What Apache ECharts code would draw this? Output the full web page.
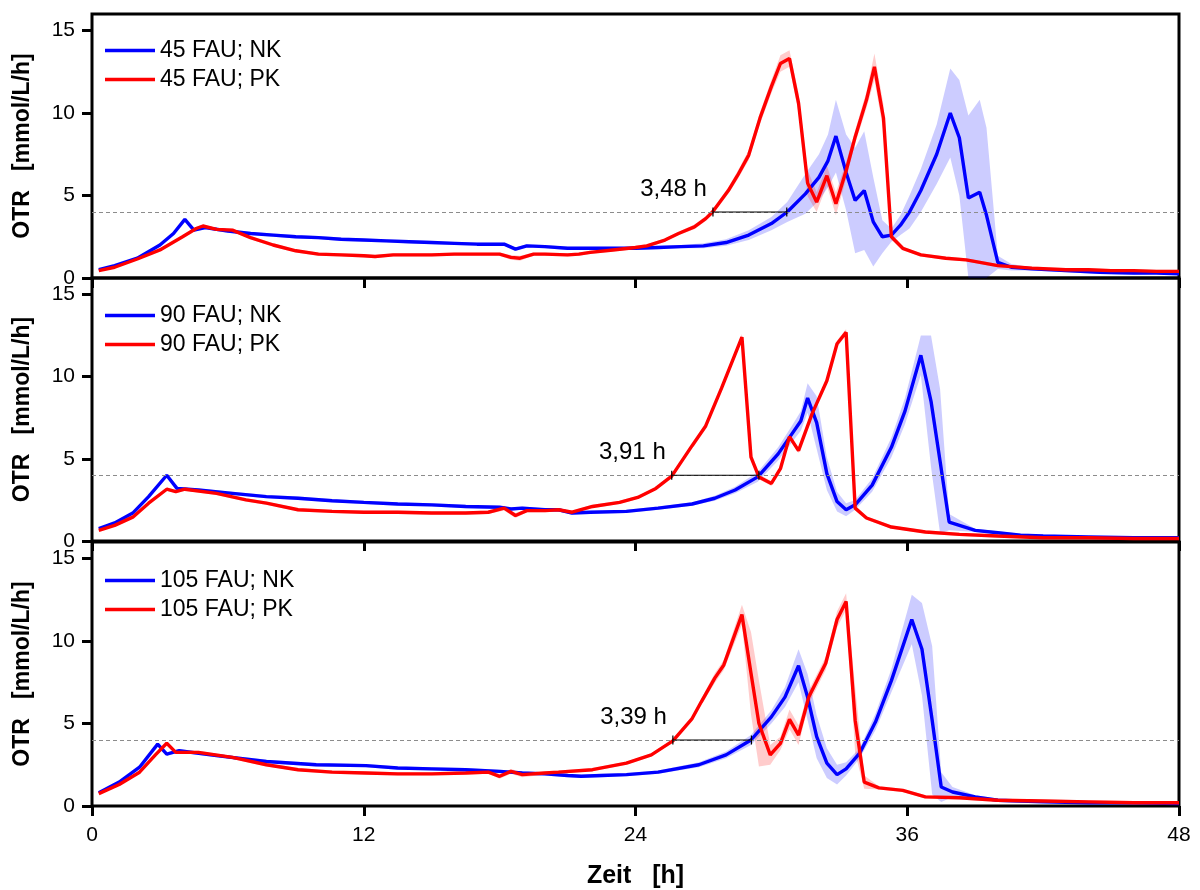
<!DOCTYPE html>
<html>
<head>
<meta charset="utf-8">
<script src="https://cdn.jsdelivr.net/npm/echarts@6/dist/echarts.min.js"></script>
<style>html,body{margin:0;padding:0;background:#fff}#c{width:1200px;height:890px}</style>
</head>
<body>
<div id="c"></div>
<script>
// ---------- DATA ----------
const X_TICKS = [0, 12, 24, 36, 48];
const Y_TICKS = [0, 5, 10, 15];
const THRESHOLD = 4;

const LEGEND_NK = ['45 FAU; NK', '90 FAU; NK', '105 FAU; NK'];
const LEGEND_PK = ['45 FAU; PK', '90 FAU; PK', '105 FAU; PK'];

const ANN_TEXT = ['3,48 h', '3,91 h', '3,39 h'];
const ANN_START = [27.42, 25.6, 25.65];
const ANN_END = [30.68, 29.45, 29.12];

// 45 FAU
const T_NK45 = [0.3,1,2,3,3.6,4.1,4.5,5,6,7,8,9,10,11,12,13,14,15,16,17,18.2,18.7,19.2,20,21,22,23,24,25,26,27,28,29,30,30.7,31.5,32.1,32.5,32.85,33.3,33.7,34.1,34.5,34.9,35.3,35.7,36.1,36.6,37.3,37.9,38.3,38.7,39.2,39.5,40.0,40.6,41.5,43,44.5,46,47,48];
const OTR_NK45 = [0.5,0.75,1.2,2.0,2.7,3.55,2.9,3.05,2.85,2.7,2.6,2.5,2.45,2.35,2.3,2.25,2.2,2.15,2.1,2.05,2.05,1.75,1.95,1.9,1.8,1.8,1.8,1.8,1.85,1.9,1.95,2.15,2.6,3.3,4.0,5.1,6.1,7.1,8.6,6.4,4.7,5.3,3.4,2.5,2.6,3.2,4.0,5.3,7.5,10.0,8.5,4.85,5.2,3.8,0.95,0.65,0.55,0.45,0.35,0.3,0.3,0.25];
const SD_NK45 = [0.05,0.05,0.05,0.1,0.1,0.1,0.1,0.1,0.1,0.1,0.1,0.1,0.1,0.1,0.1,0.1,0.1,0.1,0.1,0.1,0.1,0.1,0.1,0.1,0.1,0.1,0.1,0.1,0.1,0.1,0.15,0.2,0.3,0.4,0.6,1.2,1.4,1.6,2.2,2.3,3.2,3.6,2.7,1.0,0.4,0.6,1.0,1.3,1.8,2.7,3.5,5.0,5.6,5.3,0.4,0.2,0.1,0.1,0.1,0.1,0.05,0.05];

const T_PK45 = [0.3,1,2,3,4,4.6,4.9,5.5,6.2,7,8,9,10,11,12,12.5,13.3,14,15,16,17,18,18.5,18.9,19.5,20,21,21.5,22,23,24,24.5,25.3,25.9,26.6,27.1,27.4,28.1,28.5,29,29.5,30,30.4,30.8,31.2,31.6,32,32.45,32.85,33.3,33.7,34.2,34.55,34.95,35.3,35.8,36.6,37.7,38.6,40,41.5,43,44,45,46,47,48];
const OTR_PK45 = [0.45,0.65,1.15,1.7,2.5,3.0,3.15,2.95,2.9,2.45,2.0,1.65,1.45,1.4,1.35,1.3,1.4,1.4,1.4,1.45,1.45,1.45,1.25,1.2,1.45,1.45,1.4,1.45,1.55,1.7,1.85,1.95,2.3,2.7,3.1,3.6,4.0,5.3,6.2,7.45,9.7,11.6,13.0,13.3,10.6,5.75,4.6,6.2,4.5,6.5,8.55,10.8,12.8,9.7,2.5,1.8,1.4,1.2,1.1,0.75,0.6,0.5,0.5,0.45,0.45,0.4,0.4];
const SD_PK45 = [0.05,0.05,0.05,0.1,0.1,0.1,0.1,0.1,0.1,0.1,0.1,0.1,0.1,0.1,0.1,0.1,0.1,0.1,0.1,0.1,0.1,0.1,0.15,0.15,0.1,0.1,0.1,0.1,0.1,0.1,0.1,0.1,0.1,0.1,0.15,0.15,0.15,0.2,0.25,0.3,0.35,0.4,0.5,0.5,0.6,0.8,0.6,0.6,0.7,0.5,0.4,0.5,0.8,0.8,0.2,0.1,0.1,0.1,0.1,0.1,0.1,0.1,0.1,0.1,0.1,0.1,0.1];

// 90 FAU
const T_NK90 = [0.3,1,1.8,2.5,3.3,3.75,4.7,6.2,7.7,9.1,10.6,12,13.5,15,16.5,18,18.5,19,20,20.6,21.2,22,23.6,25,26.5,27.5,28.4,29.4,30.3,30.9,31.3,31.6,32,32.45,32.9,33.3,33.7,34.45,35.3,35.9,36.6,37.05,37.45,37.85,39,40,41,42,44,46,48];
const OTR_NK90 = [0.75,1.1,1.7,2.7,4.0,3.2,3.1,2.9,2.7,2.6,2.45,2.35,2.25,2.2,2.1,2.05,1.95,2.0,1.9,1.9,1.7,1.75,1.8,2.0,2.25,2.6,3.1,3.9,5.3,6.5,7.3,8.7,7.2,4.1,2.4,1.9,2.2,3.4,5.7,7.9,11.3,8.5,4.85,1.15,0.65,0.5,0.35,0.3,0.25,0.2,0.2];
const SD_NK90 = [0.05,0.05,0.05,0.1,0.1,0.1,0.1,0.1,0.1,0.1,0.1,0.1,0.1,0.1,0.1,0.1,0.1,0.1,0.1,0.1,0.1,0.1,0.1,0.1,0.1,0.15,0.2,0.3,0.4,0.5,0.6,0.9,1.6,1.0,0.6,0.4,0.3,0.4,0.6,0.8,1.2,4.0,4.4,0.5,0.1,0.1,0.1,0.1,0.05,0.05,0.05];

const T_PK90 = [0.3,1,1.8,2.5,3.3,3.7,4.1,5.5,6.8,7.7,9.1,10.6,12,13.5,15,16.5,17.5,18.2,18.7,19.2,20,20.6,21.2,22.1,23.3,24.1,24.9,25.6,26.5,27.1,27.8,28.7,29.1,29.45,30,30.4,30.8,31.2,31.8,32.45,32.9,33.3,33.7,34.2,35.3,36.8,38.3,40,42,44,46,48];
const OTR_PK90 = [0.65,0.95,1.45,2.3,3.15,3.0,3.15,2.9,2.5,2.3,1.9,1.8,1.75,1.75,1.7,1.7,1.75,2.0,1.55,1.85,1.85,1.9,1.75,2.1,2.35,2.65,3.2,3.95,5.8,7.0,9.3,12.4,5.1,3.9,3.5,4.4,6.35,5.5,7.75,9.75,12.0,12.7,2.0,1.4,0.85,0.55,0.4,0.3,0.2,0.2,0.15,0.15];
const SD_PK90 = [0.05,0.05,0.05,0.1,0.1,0.1,0.1,0.1,0.1,0.1,0.1,0.1,0.1,0.1,0.1,0.1,0.1,0.15,0.15,0.1,0.1,0.1,0.1,0.1,0.1,0.1,0.1,0.1,0.1,0.1,0.15,0.2,0.2,0.15,0.15,0.15,0.15,0.15,0.15,0.15,0.2,0.2,0.15,0.1,0.1,0.1,0.1,0.1,0.1,0.1,0.1,0.1];

// 105 FAU
const T_NK105 = [0.3,1.2,2.1,2.9,3.3,3.85,5.5,7.7,9.9,12.1,13.5,15,16.5,18,19,20,21,21.6,22.5,23.6,25,26.8,28,29.1,30,30.6,31.2,31.6,32,32.45,32.9,33.3,33.9,34.6,35.3,36.2,36.65,37.1,37.5,38,39,40,41,42,44,46,48];
const OTR_NK105 = [0.8,1.45,2.35,3.75,3.15,3.35,3.05,2.7,2.5,2.45,2.3,2.25,2.2,2.1,2.0,1.95,1.85,1.8,1.85,1.9,2.05,2.5,3.1,4.0,5.4,6.6,8.5,6.6,4.2,2.6,1.9,2.25,3.2,5.1,7.6,11.3,9.5,5.2,1.15,0.85,0.55,0.35,0.3,0.25,0.2,0.2,0.15];
const SD_NK105 = [0.05,0.05,0.1,0.1,0.1,0.1,0.1,0.1,0.1,0.1,0.1,0.1,0.1,0.1,0.1,0.1,0.1,0.1,0.1,0.1,0.1,0.15,0.2,0.3,0.4,0.6,1.0,1.4,1.3,0.9,0.6,0.4,0.3,0.5,0.7,1.5,2.8,4.5,0.9,0.3,0.1,0.1,0.1,0.05,0.05,0.05,0.05];

const T_PK105 = [0.3,1.2,2.1,2.8,3.3,3.7,4.7,6.2,7.7,9.1,10.6,12.1,13.5,15,16.5,17.5,18,18.5,19,20,20.6,22.1,23.6,24.7,25.65,26.5,26.9,27.5,27.9,28.7,29.1,29.45,29.95,30.4,30.8,31.2,31.65,32.4,32.9,33.3,33.7,34.1,34.75,35.8,36.8,38.3,40,42,44,46,48];
const OTR_PK105 = [0.75,1.3,2.05,3.1,3.8,3.25,3.25,2.95,2.5,2.2,2.05,2.0,1.95,1.95,2.0,2.05,1.8,2.1,1.9,2.0,2.05,2.2,2.6,3.1,3.95,5.3,6.3,7.75,8.55,11.6,8.05,5.0,3.1,3.8,5.25,4.3,6.6,8.65,11.3,12.4,5.2,1.45,1.1,0.95,0.55,0.5,0.35,0.3,0.25,0.2,0.2];
const SD_PK105 = [0.05,0.05,0.1,0.1,0.1,0.1,0.1,0.1,0.1,0.1,0.1,0.1,0.1,0.1,0.1,0.1,0.15,0.15,0.15,0.1,0.1,0.1,0.1,0.1,0.1,0.1,0.2,0.3,0.3,0.6,2.5,2.6,0.6,0.4,0.6,0.6,0.4,0.4,0.5,0.5,2.0,0.4,0.1,0.1,0.1,0.1,0.1,0.1,0.1,0.1,0.1];

// ---------- CHART ----------
const FONT = '"Liberation Sans", Arial, Helvetica, sans-serif';
const BLUE = '#0000ff', RED = '#ff0000';
const BLUE_BAND = 'rgba(0,0,255,0.2)', RED_BAND = 'rgba(255,0,0,0.2)';

const PANELS = [
  {nk: [T_NK45, OTR_NK45, SD_NK45], pk: [T_PK45, OTR_PK45, SD_PK45]},
  {nk: [T_NK90, OTR_NK90, SD_NK90], pk: [T_PK90, OTR_PK90, SD_PK90]},
  {nk: [T_NK105, OTR_NK105, SD_NK105], pk: [T_PK105, OTR_PK105, SD_PK105]}
];
const GRID_TOP = [14, 278, 542];
const GRID_H = [264, 263, 264];
const LEGEND_TOP = [39, 304, 569];

function pairs(t, v) { return t.map((x, j) => [x, v[j]]); }

function band(idx, arr, color) {
  const t = arr[0], v = arr[1], sd = arr[2];
  return {
    type: 'custom', xAxisIndex: idx, yAxisIndex: idx, clip: true, silent: true, z: 1,
    data: [[t[0], v[0]]],
    renderItem: function (params, api) {
      const pts = [];
      for (let j = 0; j < t.length; j++) pts.push(api.coord([t[j], v[j] + sd[j]]));
      for (let j = t.length - 1; j >= 0; j--) pts.push(api.coord([t[j], Math.max(0, v[j] - sd[j])]));
      return {type: 'polygon', shape: {points: pts}, style: {fill: color}};
    }
  };
}

const grids = [], xAxes = [], yAxes = [], series = [], legends = [];
PANELS.forEach((p, i) => {
  const last = i === PANELS.length - 1;
  grids.push({left: 92, width: 1087, top: GRID_TOP[i], height: GRID_H[i], show: true,
    borderColor: '#000', borderWidth: 3, backgroundColor: 'transparent'});
  xAxes.push({
    type: 'value', gridIndex: i, min: 0, max: 48, interval: 12,
    axisLine: {show: false},
    axisTick: {show: true, length: 10, inside: false, lineStyle: {color: '#000', width: 3}},
    axisLabel: {show: last, fontSize: 21, color: '#000', fontFamily: FONT, margin: 19,
      formatter: v => (X_TICKS.indexOf(v) >= 0 ? String(v) : '')},
    splitLine: {show: false},
    name: last ? 'Zeit   [h]' : '', nameLocation: 'middle', nameGap: 58,
    nameTextStyle: {fontSize: 25, fontWeight: 'bold', color: '#000', fontFamily: FONT}
  });
  yAxes.push({
    type: 'value', gridIndex: i, min: 0, max: 16, interval: 5,
    axisLine: {show: false},
    axisTick: {show: true, length: 10, lineStyle: {color: '#000', width: 3}},
    axisLabel: {fontSize: 21, color: '#000', fontFamily: FONT, margin: 17, showMaxLabel: false,
      formatter: v => (Y_TICKS.indexOf(v) >= 0 ? String(v) : '')},
    splitLine: {show: false},
    name: 'OTR   [mmol/L/h]', nameLocation: 'middle', nameGap: 58, nameRotate: 90,
    nameTextStyle: {fontSize: 23, fontWeight: 'bold', color: '#000', fontFamily: FONT}
  });
  series.push(band(i, p.nk, BLUE_BAND));
  series.push(band(i, p.pk, RED_BAND));
  series.push({
    type: 'line', name: LEGEND_NK[i], xAxisIndex: i, yAxisIndex: i, data: pairs(p.nk[0], p.nk[1]),
    showSymbol: false, symbol: 'none', color: BLUE, lineStyle: {color: BLUE, width: 3.4}, z: 3,
    markLine: {silent: true, symbol: ['none', 'none'], label: {show: false},
      lineStyle: {color: '#8c8c8c', type: [4, 3], width: 1}, data: [{yAxis: THRESHOLD}]}
  });
  series.push({
    type: 'line', name: LEGEND_PK[i], xAxisIndex: i, yAxisIndex: i, data: pairs(p.pk[0], p.pk[1]),
    showSymbol: false, symbol: 'none', color: RED, lineStyle: {color: RED, width: 3.4}, z: 4
  });
  series.push({
    type: 'line', xAxisIndex: i, yAxisIndex: i, silent: true, z: 5,
    data: [[ANN_START[i], THRESHOLD], [ANN_END[i], THRESHOLD]],
    symbol: 'rect', symbolSize: [1.2, 9], showSymbol: true, showAllSymbol: true,
    itemStyle: {color: '#000'}, lineStyle: {color: '#000', width: 1}
  });
  series.push({
    type: 'scatter', xAxisIndex: i, yAxisIndex: i, silent: true, z: 6, symbolSize: 0,
    data: [[ANN_START[i], THRESHOLD + 1.4]],
    itemStyle: {opacity: 1},
    label: {show: true, position: 'left', distance: 6, formatter: ANN_TEXT[i],
      fontSize: 24, color: '#000', opacity: 1, fontFamily: FONT}
  });
  legends.push({
    data: [LEGEND_NK[i], LEGEND_PK[i]], left: 105, top: LEGEND_TOP[i], orient: 'vertical',
    padding: 0, icon: 'rect', itemWidth: 50, itemHeight: 3.4, itemGap: 6, selectedMode: false,
    textStyle: {fontSize: 23, color: '#000', fontFamily: FONT, lineHeight: 22}
  });
});

const chart = echarts.init(document.getElementById('c'), null, {renderer: 'canvas'});
chart.setOption({
  animation: false, backgroundColor: '#fff',
  grid: grids, xAxis: xAxes, yAxis: yAxes, legend: legends, series: series
});
</script>
</body>
</html>
